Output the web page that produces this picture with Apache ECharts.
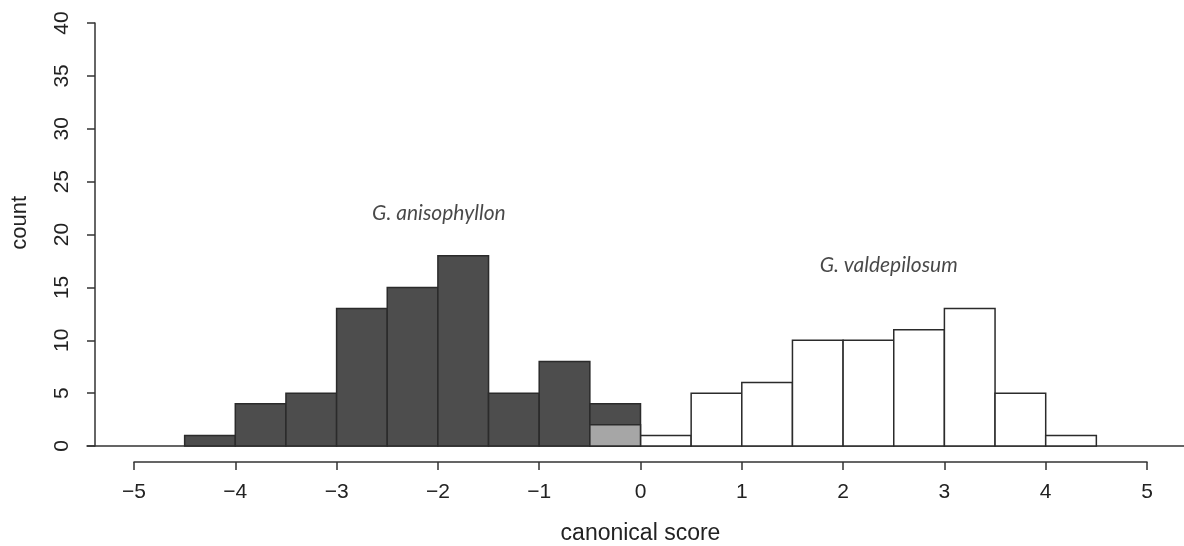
<!DOCTYPE html>
<html>
<head>
<meta charset="utf-8" />
<title>canonical score histogram</title>
<script src="https://cdn.jsdelivr.net/npm/echarts@6/dist/echarts.min.js"></script>
<style>
  html, body { margin: 0; padding: 0; background: #fff; }
  #main { width: 1184px; height: 546px; }
</style>
</head>
<body>
<div id="main"></div>
<script>
// histogram bins, width 0.5
var binWidth = 0.5;
var anisoStarts = [-4.5, -4.0, -3.5, -3.0, -2.5, -2.0, -1.5, -1.0, -0.5];
var anisoCounts = [1, 4, 5, 13, 15, 18, 5, 8, 4];
var valdeStarts = [0.0, 0.5, 1.0, 1.5, 2.0, 2.5, 3.0, 3.5, 4.0];
var valdeCounts = [1, 5, 6, 10, 10, 11, 13, 5, 1];
var overlapStarts = [-0.5];
var overlapCounts = [2];

var xTicks = [-5, -4, -3, -2, -1, 0, 1, 2, 3, 4, 5];
var yTicks = [0, 5, 10, 15, 20, 25, 30, 35, 40];

// species labels (data coordinates)
var speciesNames = ['G. anisophyllon', 'G. valdepilosum'];
var speciesPos = [[-1.99, 22.0], [2.45, 17.1]];

function bins(starts, counts) {
  var out = [];
  for (var i = 0; i < starts.length; i++) {
    out.push([starts[i], starts[i] + binWidth, counts[i]]);
  }
  return out;
}

function renderBar(fill) {
  return function (params, api) {
    var p0 = api.coord([api.value(0), api.value(2)]);
    var p1 = api.coord([api.value(1), 0]);
    return {
      type: 'rect',
      shape: { x: p0[0], y: p0[1], width: p1[0] - p0[0], height: p1[1] - p0[1] },
      style: { fill: fill, stroke: '#2b2b2b', lineWidth: 1.5 }
    };
  };
}

var labelFont = 'Liberation Sans, Arial, sans-serif';
var myChart = echarts.init(document.getElementById('main'));

var option = {
  animation: false,
  grid: [
    // baseline grid
    { left: 87, right: 0, top: 23, bottom: 100, outerBoundsMode: 'none' },
    // main plot grid, -5..5 from x=134 to x=1147
    { left: 134, right: 37, top: 23, bottom: 100, outerBoundsMode: 'none' }
  ],
  xAxis: [
    {
      gridIndex: 0, type: 'value', min: 0, max: 1,
      axisLine: { show: true, onZero: false, lineStyle: { color: '#333', width: 1.5 } },
      axisTick: { show: false }, axisLabel: { show: false }, splitLine: { show: false }
    },
    {
      gridIndex: 1, type: 'value', min: -5, max: 5, interval: 1,
      position: 'bottom', offset: 16,
      name: 'canonical score', nameLocation: 'middle', nameGap: 60,
      nameTextStyle: { fontFamily: labelFont, fontSize: 23, color: '#222' },
      axisLine: { show: true, onZero: false, lineStyle: { color: '#333', width: 1.5 } },
      axisTick: { show: true, length: 8, lineStyle: { color: '#333', width: 1.5 } },
      axisLabel: {
        margin: 20, fontFamily: labelFont, fontSize: 21, color: '#222',
        formatter: function (v) { return String(v).replace('-', '\u2212'); }
      },
      splitLine: { show: false }
    }
  ],
  yAxis: [
    { gridIndex: 0, type: 'value', min: 0, max: 40, show: false },
    {
      gridIndex: 1, type: 'value', min: 0, max: 40, interval: 5,
      position: 'left', offset: 39,
      axisLine: { show: true, onZero: false, lineStyle: { color: '#333', width: 1.5 } },
      axisTick: { show: true, length: 8, lineStyle: { color: '#333', width: 1.5 } },
      axisLabel: {
        rotate: 90, margin: 22, fontFamily: labelFont, fontSize: 21, color: '#222'
      },
      splitLine: { show: false }
    }
  ],
  graphic: [
    {
      type: 'text', left: 9, top: 196, rotation: Math.PI / 2,
      style: { text: 'count', font: '22px ' + labelFont, fill: '#222' }
    }
  ],
  series: [
    {
      name: 'G. anisophyllon', type: 'custom', xAxisIndex: 1, yAxisIndex: 1,
      renderItem: renderBar('#4d4d4d'), data: bins(anisoStarts, anisoCounts)
    },
    {
      name: 'G. valdepilosum', type: 'custom', xAxisIndex: 1, yAxisIndex: 1,
      renderItem: renderBar('#ffffff'), data: bins(valdeStarts, valdeCounts)
    },
    {
      name: 'overlap', type: 'custom', xAxisIndex: 1, yAxisIndex: 1,
      renderItem: renderBar('#a6a6a6'), data: bins(overlapStarts, overlapCounts)
    },
    {
      name: 'species', type: 'scatter', xAxisIndex: 1, yAxisIndex: 1,
      symbolSize: 0, silent: true,
      data: speciesPos.map(function (p, i) { return { value: p, name: speciesNames[i] }; }),
      label: {
        show: true, position: 'inside', formatter: '{b}',
        fontFamily: 'Lato, Open Sans, sans-serif', fontStyle: 'italic',
        fontSize: 21, color: '#1a1a1a'
      }
    }
  ]
};

myChart.setOption(option);
</script>
</body>
</html>
